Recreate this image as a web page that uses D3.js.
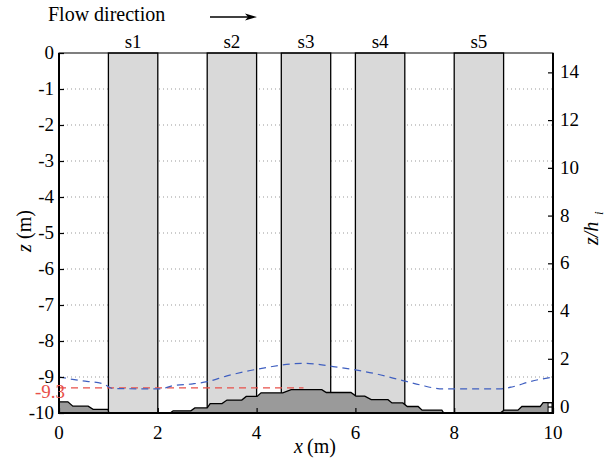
<!DOCTYPE html>
<html>
<head>
<meta charset="utf-8">
<script src="https://cdn.jsdelivr.net/npm/d3@7"></script>
</head>
<body style="margin:0">
<div class="chart"></div>
<script>
// structures (piers) along the channel, x in m
let structNames = ['s1', 's2', 's3', 's4', 's5'];
let structStart = [1.0, 3.0, 4.5, 6.0, 8.0];
let structEnd = [2.0, 4.0, 5.5, 7.0, 9.0];

// bed profile (x in m, z in m)
let bedX = [0, 0.18, 0.28, 0.59, 0.69, 0.99, 1.01, 2.25, 2.31, 2.67, 2.75, 3.0, 3.06, 3.3, 3.4, 3.7,
  3.79, 4.01, 4.09, 4.53, 4.7, 5.32, 5.41, 5.91, 6.01, 6.19, 6.32, 6.66, 6.74, 6.96, 7.05, 7.27,
  7.35, 7.75, 7.79, 8.93, 9.01, 9.29, 9.37, 9.74, 9.8, 10];
let bedZ = [-9.69, -9.69, -9.81, -9.81, -9.9, -9.9, -10, -10, -9.94, -9.94, -9.86, -9.86, -9.74, -9.74, -9.64, -9.64,
  -9.54, -9.54, -9.44, -9.44, -9.35, -9.35, -9.43, -9.43, -9.53, -9.53, -9.63, -9.63, -9.72, -9.72, -9.82, -9.82,
  -9.92, -9.92, -10, -10, -9.92, -9.92, -9.82, -9.82, -9.71, -9.71];

// blue dashed profile
let profX = [0, 0.43, 0.89, 1.09, 2.05, 2.31, 2.71, 3.0, 3.4, 3.87, 4.27, 4.68, 4.92, 5.18, 5.55,
  6.03, 6.44, 6.76, 7.05, 7.31, 7.77, 8.93, 9.19, 9.53, 10];
let profZ = [-9.0, -9.1, -9.19, -9.32, -9.33, -9.24, -9.19, -9.13, -8.97, -8.82, -8.72, -8.64, -8.62, -8.64, -8.71,
  -8.81, -8.92, -9.03, -9.13, -9.22, -9.33, -9.33, -9.27, -9.13, -9.0];

// reference level
let refLevel = -9.3;
let refEndX = 4.95;

// small box at the right end of the bed
let boxX = [9.9, 9.98];
let boxZ = [-10, -9.72];

let xTicks = [0, 2, 4, 6, 8, 10];
let zTicks = [0, -1, -2, -3, -4, -5, -6, -7, -8, -9, -10];
let gridTicks = [-1, -2, -3, -4, -5, -6, -7, -8, -9];
let rTicks = [0, 2, 4, 6, 8, 10, 12, 14];

// z/h_i reference: bed level and depth scale
let zBase = -9.82;
let hi = 0.663;

let fontName = "'Liberation Serif'";

let margin = { left: 59, right: 55, top: 53, bottom: 57 };
let width = 608 - margin.left - margin.right;
let height = 470 - margin.top - margin.bottom;

let svg = d3.select('.chart').append('svg')
  .attr('width', 608)
  .attr('height', 470);

let g = svg.append('g')
  .attr('transform', 'translate(' + margin.left + ',' + margin.top + ')');

let xScale = d3.scaleLinear().domain([0, 10]).range([margin.left, margin.left + width]);
let yScale = d3.scaleLinear().domain([-10, 0]).range([margin.top + height, margin.top]);
let rScale = d3.scaleLinear()
  .domain([(-10 - zBase) / hi, (0 - zBase) / hi])
  .range([margin.top + height, margin.top]);

// dotted grid
svg.selectAll('.grid')
  .data(gridTicks)
  .enter()
  .append('line')
    .attr('x1', xScale(0))
    .attr('x2', xScale(10))
    .attr('y1', (d) => yScale(d))
    .attr('y2', (d) => yScale(d))
    .attr('stroke', '#999')
    .attr('stroke-width', 1)
    .attr('stroke-dasharray', '1,3');

// structures
svg.selectAll('.struct')
  .data(structNames)
  .enter()
  .append('rect')
    .attr('x', (d, i) => xScale(structStart[i]))
    .attr('y', yScale(0))
    .attr('width', (d, i) => xScale(structEnd[i]) - xScale(structStart[i]))
    .attr('height', yScale(-10) - yScale(0))
    .attr('fill', '#d9d9d9')
    .attr('stroke', '#000')
    .attr('stroke-width', 1.3);

// bed
let bed = bedX.map((x, i) => [x, bedZ[i]]);
let bedArea = d3.area()
  .x((d) => xScale(d[0]))
  .y0(yScale(-10))
  .y1((d) => yScale(d[1]));
svg.append('path')
  .datum(bed)
  .attr('d', bedArea)
  .attr('fill', '#9a9a9a');
svg.append('path')
  .datum(bed)
  .attr('d', d3.line().x((d) => xScale(d[0])).y((d) => yScale(d[1])))
  .attr('fill', 'none')
  .attr('stroke', '#000')
  .attr('stroke-width', 1.3);

svg.append('rect')
  .attr('x', xScale(boxX[0]))
  .attr('y', yScale(boxZ[1]))
  .attr('width', xScale(boxX[1]) - xScale(boxX[0]))
  .attr('height', yScale(boxZ[0]) - yScale(boxZ[1]))
  .attr('fill', '#fff')
  .attr('stroke', '#000')
  .attr('stroke-width', 1);

// red reference line
svg.append('line')
  .attr('x1', xScale(0))
  .attr('x2', xScale(refEndX))
  .attr('y1', yScale(refLevel))
  .attr('y2', yScale(refLevel))
  .attr('stroke', '#e8504a')
  .attr('stroke-width', 1.3)
  .attr('stroke-dasharray', '7,5');

// blue dashed profile
let prof = profX.map((x, i) => [x, profZ[i]]);
svg.append('path')
  .datum(prof)
  .attr('d', d3.line().curve(d3.curveMonotoneX).x((d) => xScale(d[0])).y((d) => yScale(d[1])))
  .attr('fill', 'none')
  .attr('stroke', '#3f5fc0')
  .attr('stroke-width', 1.2)
  .attr('stroke-dasharray', '7,5');

// axes box
svg.append('rect')
  .attr('x', margin.left)
  .attr('y', margin.top)
  .attr('width', width)
  .attr('height', height)
  .attr('fill', 'none')
  .attr('stroke', '#000')
  .attr('stroke-width', 1);
svg.append('path')
  .attr('d', 'M' + xScale(0) + ',' + yScale(0) + 'V' + yScale(-10) + 'H' + xScale(10) + 'V' + yScale(0))
  .attr('fill', 'none')
  .attr('stroke', '#000')
  .attr('stroke-width', 2);

// tick marks from d3 axes (labels drawn separately below)
let xAxis = d3.axisBottom(xScale).tickValues(xTicks).tickFormat('').tickSize(-5);
let yAxis = d3.axisLeft(yScale).tickValues(zTicks).tickFormat('').tickSize(-5);
let rAxis = d3.axisRight(rScale).tickValues(rTicks).tickFormat('').tickSize(-5);

let axes = [
  svg.append('g').attr('transform', 'translate(0,' + yScale(-10) + ')').call(xAxis),
  svg.append('g').attr('transform', 'translate(' + xScale(0) + ',0)').call(yAxis),
  svg.append('g').attr('transform', 'translate(' + xScale(10) + ',0)').call(rAxis)
];
axes.forEach((a) => {
  a.select('.domain').remove();
  a.selectAll('text').remove();
  a.attr('font-family', null).attr('font-size', null);
  a.selectAll('line').attr('stroke', '#000').attr('stroke-width', 1.2);
});

// tick labels
svg.selectAll('.xlab')
  .data(xTicks)
  .enter()
  .append('text')
    .attr('x', (d) => xScale(d))
    .attr('y', 439)
    .attr('text-anchor', 'middle')
    .attr('font-size', 19)
    .style('font-family', fontName)
    .text((d) => String(d));

svg.selectAll('.ylab')
  .data(zTicks)
  .enter()
  .append('text')
    .attr('x', 54)
    .attr('y', (d) => yScale(d) + 6)
    .attr('text-anchor', 'end')
    .attr('font-size', 19)
    .style('font-family', fontName)
    .text((d) => String(d));

svg.selectAll('.rlab')
  .data(rTicks)
  .enter()
  .append('text')
    .attr('x', 560)
    .attr('y', (d) => rScale(d) + 6)
    .attr('font-size', 19)
    .style('font-family', fontName)
    .text((d) => String(d));

// structure labels
svg.selectAll('.slabel')
  .data(structNames)
  .enter()
  .append('text')
    .attr('x', (d, i) => xScale((structStart[i] + structEnd[i]) / 2))
    .attr('y', 48)
    .attr('text-anchor', 'middle')
    .attr('font-size', 19)
    .style('font-family', fontName)
    .text((d) => d);

// red label for reference level
svg.append('text')
  .attr('x', 65)
  .attr('y', yScale(refLevel) + 10)
  .attr('text-anchor', 'end')
  .attr('font-size', 19)
  .attr('fill', '#e8504a')
  .style('font-family', fontName)
  .text('-9.3');

// axis labels
svg.append('text')
  .attr('x', 294)
  .attr('y', 453)
  .attr('font-size', 20)
  .attr('font-style', 'italic')
  .style('font-family', fontName)
  .text('x');
svg.append('text')
  .attr('x', 307)
  .attr('y', 453)
  .attr('font-size', 20)
  .style('font-family', fontName)
  .text('(m)');

svg.append('text')
  .attr('transform', 'translate(31,252)rotate(-90)')
  .attr('font-size', 20)
  .attr('font-style', 'italic')
  .style('font-family', fontName)
  .text('z');
svg.append('text')
  .attr('transform', 'translate(31,239)rotate(-90)')
  .attr('font-size', 20)
  .style('font-family', fontName)
  .text('(m)');

svg.append('text')
  .attr('transform', 'translate(598,245)rotate(-90)')
  .attr('font-size', 20)
  .attr('font-style', 'italic')
  .style('font-family', fontName)
  .text('z/h');
svg.append('text')
  .attr('transform', 'translate(603,215)rotate(-90)')
  .attr('font-size', 13)
  .attr('font-style', 'italic')
  .style('font-family', fontName)
  .text('i');

// flow direction note
svg.append('text')
  .attr('x', 48)
  .attr('y', 21)
  .attr('font-size', 20)
  .style('font-family', fontName)
  .text('Flow direction');

svg.append('line')
  .attr('x1', 210)
  .attr('x2', 248)
  .attr('y1', 17)
  .attr('y2', 17)
  .attr('stroke', '#000')
  .attr('stroke-width', 1.3);
svg.append('path')
  .attr('d', 'M245,13.5L257,17L245,20.5L248,17Z')
  .attr('fill', '#000');
</script>
</body>
</html>
